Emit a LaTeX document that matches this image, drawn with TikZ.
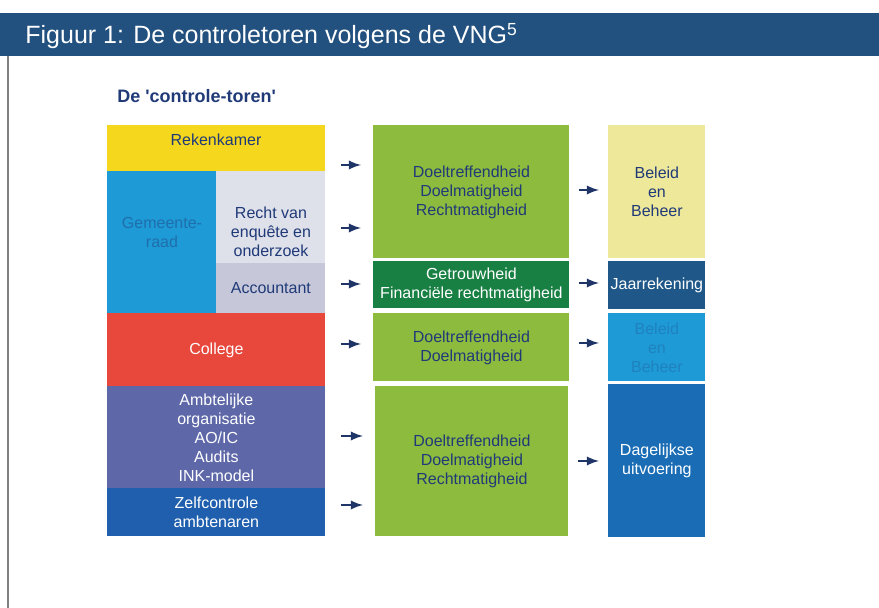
\documentclass[tikz,border=0pt]{standalone}
\usepackage{fontspec}
\setmainfont{Liberation Sans}
\usepackage{xcolor}
\definecolor{balk}{HTML}{22507F}
\definecolor{navy}{HTML}{203A78}
\definecolor{pijl}{HTML}{1F3568}
\definecolor{geel}{HTML}{F5D81E}
\definecolor{cyaan}{HTML}{1E9AD6}
\definecolor{lila}{HTML}{DEE0EA}
\definecolor{grijs}{HTML}{C6C8DA}
\definecolor{rood}{HTML}{E8473C}
\definecolor{paars}{HTML}{5E68A8}
\definecolor{blauw}{HTML}{1F5FAE}
\definecolor{groen}{HTML}{8DBB3E}
\definecolor{dgroen}{HTML}{198044}
\definecolor{lgeel}{HTML}{EEE89A}
\definecolor{dblauw}{HTML}{1E5788}
\definecolor{mblauw}{HTML}{1A6DB5}

\tikzset{
  txt/.style={align=center, inner sep=0pt, text=navy, font=\fontsize{8}{9.5}\selectfont},
  blk/.style={txt, rectangle, anchor=north west},
  arr/.style={-latex, pijl, line width=1.1pt}
}

\begin{document}
\begin{tikzpicture}[x=0.5pt,y=-0.5pt]
  \useasboundingbox (0,0) rectangle (879,608);
  \fill [balk] (0,13) rectangle (879,56); % titelbalk over de hele breedte
  \draw [gray, line width=0.9pt] (8,56) -- (8,608);
  \node [anchor=base west, inner sep=0pt, text=white, font=\fontsize{12.5}{15}\selectfont] (titel) at (25,44) {Figuur 1: De controletoren volgens de VNG\textsuperscript{5}};
  \node [anchor=base west, inner sep=0pt, text=navy, font=\fontsize{9}{10}\selectfont\bfseries] (kop) at (117,103) {De \textquotesingle controle-toren\textquotesingle};

  % linker kolom
  \node [blk, fill=geel, minimum width=109pt, minimum height=23pt] (rek) at (107,125) {};
  \node [txt] (rekt) at (216,140) {Rekenkamer};
  \node [blk, fill=cyaan, minimum width=54.5pt, minimum height=71pt] (raad) at (107,171) {};
  \node [txt, text=cyaan!55!navy] (raadt) at (162,232) {Gemeente-\\raad};
  \node [blk, fill=lila, minimum width=54.5pt, minimum height=46pt] (enq) at (216,171) {};
  \node [txt] (enqt) at (271,232) {Recht van\\enquête en\\onderzoek};
  \node [blk, fill=grijs, minimum width=54.5pt, minimum height=25pt] (acc) at (216,263) {Accountant};
  \node [blk, fill=rood, text=white, minimum width=109pt, minimum height=36.5pt] (col) at (107,313) {College};
  \node [blk, fill=paars, text=white, minimum width=109pt, minimum height=51pt] (amb) at (107,386) {Ambtelijke\\organisatie\\AO/IC\\Audits\\INK-model};
  \node [blk, fill=blauw, text=white, minimum width=109pt, minimum height=24pt] (zelf) at (107,488) {Zelfcontrole\\ambtenaren};

  % middelste kolom
  \node [blk, fill=groen, minimum width=98pt, minimum height=66.5pt] (m1) at (373,125) {Doeltreffendheid\\Doelmatigheid\\Rechtmatigheid};
  \node [blk, fill=dgroen, text=white, minimum width=98pt, minimum height=23.5pt] (m2) at (373,261) {Getrouwheid\\Financiële rechtmatigheid};
  \node [blk, fill=groen, minimum width=98pt, minimum height=34pt] (m3) at (373,313) {Doeltreffendheid\\Doelmatigheid};
  \node [blk, fill=groen, minimum width=96.5pt, minimum height=75pt] (m4) at (375,386) {Doeltreffendheid\\Doelmatigheid\\Rechtmatigheid};

  % rechter kolom
  \node [blk, fill=lgeel, minimum width=48.5pt, minimum height=66.5pt] (r1) at (608,125) {Beleid\\en\\Beheer};
  \node [blk, fill=dblauw, text=white, minimum width=48.5pt, minimum height=24pt] (r2) at (608,261) {Jaarrekening};
  \node [blk, fill=cyaan, text=cyaan!75!navy, minimum width=48.5pt, minimum height=34pt] (r3) at (608,313) {Beleid\\en\\Beheer};
  \node [blk, fill=mblauw, text=white, minimum width=48.5pt, minimum height=76.5pt] (r4) at (608,384) {Dagelijkse\\uitvoering};

  % pijlen
  \foreach \a/\b/\y in {rek/m1/165, enq/m1/228, acc/m2/284, col/m3/344, amb/m4/436, zelf/m4/505}
    \draw [arr, shorten <=7.5pt, shorten >=6pt] (\a.east |- 0,\y) -- (\b.west |- 0,\y);
  \foreach \a/\b/\y in {m1/r1/190, m2/r2/283, m3/r3/343, m4/r4/461}
    \draw [arr, shorten <=4.5pt, shorten >=4.5pt] (\a.east |- 0,\y) -- (\b.west |- 0,\y);
\end{tikzpicture}
\end{document}
